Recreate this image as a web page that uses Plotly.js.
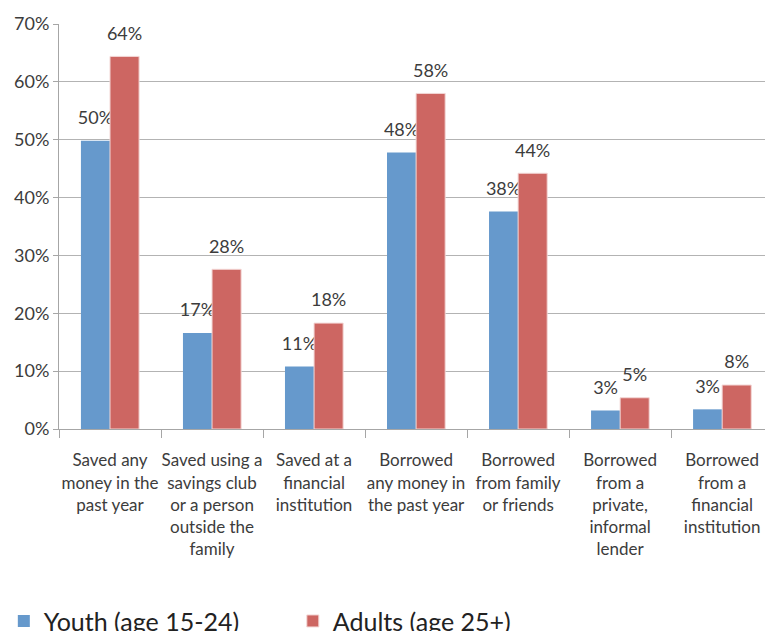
<!DOCTYPE html>
<html>
<head>
<meta charset="utf-8">
<script src="https://cdn.plot.ly/plotly-3.0.1.min.js"></script>
<style>html,body{margin:0;padding:0;background:#fff;}#chart{width:765px;height:631px;}</style>
</head>
<body>
<div id="chart"></div>
<script>
const categories = [
  "Saved any<br>money in the<br>past year",
  "Saved using a<br>savings club<br>or a person<br>outside the<br>family",
  "Saved at a<br>financial<br>institution",
  "Borrowed<br>any money in<br>the past year",
  "Borrowed<br>from family<br>or friends",
  "Borrowed<br>from a<br>private,<br>informal<br>lender",
  "Borrowed<br>from a<br>financial<br>institution"
];
const youthValues = [49.8, 16.6, 10.8, 47.8, 37.6, 3.2, 3.4];
const adultValues = [64.4, 27.6, 18.3, 58.0, 44.2, 5.4, 7.6];
const seriesNames = ["Youth (age 15-24)", "Adults (age 25+)"];
const yTickVals = [0, 10, 20, 30, 40, 50, 60, 70];

const FONT = "Lato, sans-serif";
const TXT = "#3c3c3c";
const labelTpl = "<span style='font-size:18px'>%{y:.0f}%</span><br> ";

const traces = [
  {type: "bar", name: seriesNames[0], x: categories, y: youthValues,
   marker: {color: "#6699cc"},
   texttemplate: labelTpl, textposition: "outside", textangle: 0,
   constraintext: "none", cliponaxis: false,
   textfont: {family: FONT, size: 9, color: TXT}},
  {type: "bar", name: seriesNames[1], x: categories, y: adultValues,
   marker: {color: "#cd6662", line: {color: "#f3d6d5", width: 1}},
   texttemplate: labelTpl, textposition: "outside", textangle: 0,
   constraintext: "none", cliponaxis: false,
   textfont: {family: FONT, size: 9, color: TXT}}
];

const layout = {
  width: 765, height: 631,
  margin: {l: 59, r: 0, t: 24, b: 202},
  paper_bgcolor: "#fff", plot_bgcolor: "#fff",
  font: {family: FONT, color: TXT},
  barmode: "group", bargap: 0.43, bargroupgap: 0,
  showlegend: true,
  legend: {orientation: "h", xref: "container", yref: "container",
           x: 0.005, y: 0.052, xanchor: "left", yanchor: "top",
           entrywidth: 244, entrywidthmode: "pixels",
           font: {family: FONT, size: 25, color: "#222"}},
  xaxis: {type: "category", range: [-0.5, 6.42], tickson: "boundaries",
          ticks: "outside", ticklen: 8, tickcolor: "#a6a6a6", tickangle: 0,
          ticklabelstandoff: 16,
          showline: true, linecolor: "#a6a6a6", showgrid: false,
          tickfont: {family: FONT, size: 17, color: TXT}, fixedrange: true},
  yaxis: {range: [0, 70], tickvals: yTickVals, ticktext: yTickVals.map(v => v + "%"),
          ticks: "outside", ticklen: 5, tickcolor: "#a6a6a6",
          showline: true, linecolor: "#a6a6a6", showgrid: true, gridcolor: "#b3b3b3",
          zeroline: false,
          tickfont: {family: FONT, size: 18, color: TXT}, fixedrange: true}
};

Plotly.newPlot("chart", traces, layout, {displayModeBar: false, staticPlot: true});
</script>
</body>
</html>
